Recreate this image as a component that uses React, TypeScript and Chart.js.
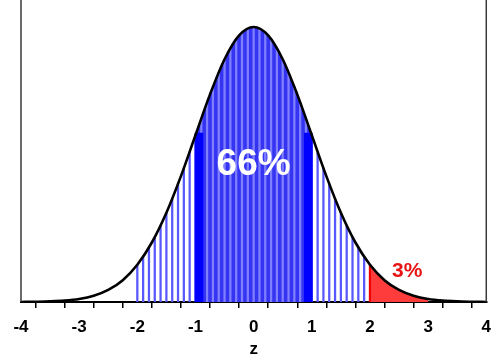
import React, { useEffect, useRef } from "react";
import { Chart, registerables } from "chart.js";

Chart.register(...registerables);

// Normal curve (z vs. height), 0.25 steps
const curveZ = [
  -4, -3.75, -3.5, -3.25, -3, -2.75, -2.5, -2.25, -2, -1.75, -1.5, -1.25, -1,
  -0.75, -0.5, -0.25, 0, 0.25, 0.5, 0.75, 1, 1.25, 1.5, 1.75, 2, 2.25, 2.5,
  2.75, 3, 3.25, 3.5, 3.75, 4,
];
const curveY = [
  0.0001, 0.0004, 0.0009, 0.002, 0.0044, 0.0091, 0.0175, 0.0317, 0.054, 0.0863,
  0.1295, 0.1826, 0.242, 0.3011, 0.3521, 0.3867, 0.3989, 0.3867, 0.3521, 0.3011,
  0.242, 0.1826, 0.1295, 0.0863, 0.054, 0.0317, 0.0175, 0.0091, 0.0044, 0.002,
  0.0009, 0.0004, 0.0001,
];

// Vertical stripes under the curve, every 0.1 from -2 to 2
const stripeZ = [
  -2, -1.9, -1.8, -1.7, -1.6, -1.5, -1.4, -1.3, -1.2, -1.1, -1, -0.9, -0.8,
  -0.7, -0.6, -0.5, -0.4, -0.3, -0.2, -0.1, 0, 0.1, 0.2, 0.3, 0.4, 0.5, 0.6,
  0.7, 0.8, 0.9, 1, 1.1, 1.2, 1.3, 1.4, 1.5, 1.6, 1.7, 1.8, 1.9, 2,
];
const stripeY = [
  0.054, 0.0656, 0.079, 0.094, 0.1109, 0.1295, 0.1497, 0.1714, 0.1942, 0.2179,
  0.242, 0.2661, 0.2897, 0.3123, 0.3332, 0.3521, 0.3683, 0.3814, 0.391, 0.397,
  0.3989, 0.397, 0.391, 0.3814, 0.3683, 0.3521, 0.3332, 0.3123, 0.2897, 0.2661,
  0.242, 0.2179, 0.1942, 0.1714, 0.1497, 0.1295, 0.1109, 0.094, 0.079, 0.0656,
  0.054,
];

// Thick blue markers just inside -1 and 1
const markerZ = [-0.94, 0.94];
const markerY = [0.245, 0.245];

// Shaded ranges
const centralRange = [-1, 1];
const tailRange = [2, 3];

// Axis ticks
const xMin = -4;
const xMax = 4;
const xStep = 0.5;
const xTitle = "z";

// Labels
const centralLabel = "66%";
const tailLabel = "3%";

function pointsIn(range: number[]) {
  const out: { x: number; y: number }[] = [];
  curveZ.forEach((z, i) => {
    if (z >= range[0] - 1e-9 && z <= range[1] + 1e-9) out.push({ x: z, y: curveY[i] });
  });
  return out;
}

const FONT = "'Liberation Sans', Arial, sans-serif";

const decorPlugin = {
  id: "decor",
  afterDraw(chart: any) {
    const { ctx, chartArea, scales } = chart;
    const x = scales.x;
    const y = scales.y;
    ctx.save();
    // side frame lines
    ctx.strokeStyle = "#3a3a3a";
    ctx.lineWidth = 1.5;
    ctx.beginPath();
    ctx.moveTo(chartArea.left, 0);
    ctx.lineTo(chartArea.left, chartArea.bottom);
    ctx.moveTo(chartArea.right, 0);
    ctx.lineTo(chartArea.right, chartArea.bottom);
    ctx.stroke();
    // labels
    ctx.textAlign = "center";
    ctx.textBaseline = "alphabetic";
    ctx.fillStyle = "#ffffff";
    ctx.font = `bold 37px ${FONT}`;
    ctx.fillText(centralLabel, x.getPixelForValue(0), y.getPixelForValue(0.184));
    ctx.fillStyle = "#e81414";
    ctx.font = `bold 21px ${FONT}`;
    ctx.fillText(tailLabel, x.getPixelForValue(2.64), y.getPixelForValue(0.0363));
    ctx.restore();
  },
};

export default function App() {
  const ref = useRef<HTMLCanvasElement | null>(null);

  useEffect(() => {
    if (!ref.current) return;
    const curve = curveZ.map((z, i) => ({ x: z, y: curveY[i] }));
    const stripes = stripeZ.map((z, i) => ({ x: z, y: stripeY[i] }));
    const markers = markerZ.map((z, i) => ({ x: z, y: markerY[i] }));

    const chart = new Chart(ref.current, {
      type: "line",
      data: {
        datasets: [
          {
            type: "line",
            data: pointsIn(centralRange),
            fill: "origin",
            backgroundColor: "#3434f2",
            borderWidth: 0,
            pointRadius: 0,
            cubicInterpolationMode: "monotone",
            order: 5,
          },
          {
            type: "line",
            data: pointsIn(tailRange),
            fill: "origin",
            backgroundColor: "#ff3c3c",
            borderWidth: 0,
            pointRadius: 0,
            cubicInterpolationMode: "monotone",
            order: 5,
          },
          {
            type: "bar",
            data: stripes,
            barThickness: 1.6,
            grouped: false,
            backgroundColor: (c: any) => {
              const z = c.raw ? c.raw.x : 0;
              if (z >= tailRange[0] - 1e-9) return "#ee0000";
              if (z > centralRange[0] && z < centralRange[1]) return "#8080ff";
              return "#5858ff";
            },
            borderWidth: 0,
            order: 4,
          },
          {
            type: "bar",
            data: markers,
            barThickness: 8,
            grouped: false,
            backgroundColor: "#0000ff",
            borderWidth: 0,
            order: 3,
          },
          {
            type: "line",
            data: curve,
            borderColor: "#000000",
            borderWidth: 2.6,
            pointRadius: 0,
            fill: false,
            cubicInterpolationMode: "monotone",
            order: 1,
          },
        ],
      } as any,
      options: {
        animation: false,
        responsive: false,
        maintainAspectRatio: false,
        layout: { padding: { left: 21, right: 13, top: 0, bottom: 0 } },
        plugins: { legend: { display: false }, tooltip: { enabled: false } },
        scales: {
          x: {
            type: "linear",
            min: xMin,
            max: xMax,
            offset: false,
            afterFit: (s: any) => {
              s.height = 60;
            },
            border: { display: true, color: "#000000", width: 2 },
            grid: {
              display: true,
              drawOnChartArea: false,
              drawTicks: true,
              tickLength: 6,
              color: "#000000",
              lineWidth: 1.5,
            },
            ticks: {
              stepSize: xStep,
              autoSkip: false,
              maxRotation: 0,
              padding: 9,
              color: "#000000",
              font: { family: FONT, size: 17, weight: "bold" },
              callback: (v: any) => (Number.isInteger(Number(v)) ? String(v) : ""),
            },
            title: {
              display: true,
              text: xTitle,
              color: "#000000",
              font: { family: FONT, size: 17, weight: "bold" },
              padding: { top: 0, bottom: 2 },
            },
          },
          y: {
            type: "linear",
            display: false,
            min: 0,
            max: 0.438,
          },
        },
      } as any,
      plugins: [decorPlugin],
    });
    return () => chart.destroy();
  }, []);

  return (
    <div style={{ position: "absolute", left: 0, top: 0, width: 500, height: 362, background: "#fff" }}>
      <canvas ref={ref} width={500} height={362} style={{ width: 500, height: 362 }} />
    </div>
  );
}
